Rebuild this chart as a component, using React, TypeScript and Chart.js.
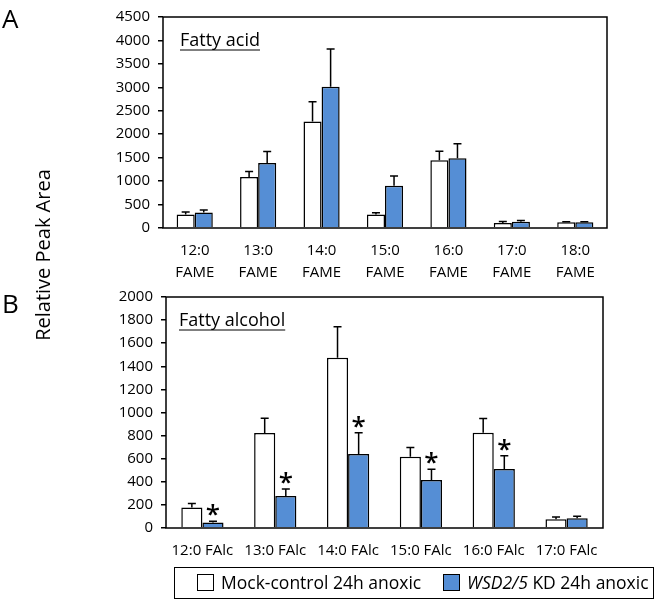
import React, { useEffect, useRef } from "react";
import { Chart, registerables } from "chart.js";

Chart.register(...registerables);

// ---------- Data ----------
const acidCategories = [
  ["12:0", "FAME"],
  ["13:0", "FAME"],
  ["14:0", "FAME"],
  ["15:0", "FAME"],
  ["16:0", "FAME"],
  ["17:0", "FAME"],
  ["18:0", "FAME"],
];
const acidMock = [290, 1090, 2270, 290, 1445, 105, 125];
const acidMockErr = [50, 115, 425, 35, 190, 35, 10];
const acidKD = [330, 1385, 3010, 900, 1485, 135, 125];
const acidKDErr = [55, 245, 805, 210, 310, 27, 10];
const acidSig = [false, false, false, false, false, false, false];

const alcoholCategories = ["12:0 FAlc", "13:0 FAlc", "14:0 FAlc", "15:0 FAlc", "16:0 FAlc", "17:0 FAlc"];
const alcoholMock = [177, 822, 1473, 617, 825, 76];
const alcoholMockErr = [36, 129, 269, 81, 123, 19];
const alcoholKD = [48, 278, 640, 415, 511, 84];
const alcoholKDErr = [11, 59, 185, 93, 115, 17];
const alcoholSig = [true, true, true, true, true, false];

const seriesNames = ["Mock-control 24h anoxic", "WSD2/5 KD 24h anoxic"];
const BLUE = "#558ED5";
const FONT = "'Open Sans', 'Noto Sans', sans-serif";

const overlayPlugin = {
  id: "overlay",
  afterDatasetsDraw(chart: any, _args: any, opts: any) {
    const ctx = chart.ctx;
    const ca = chart.chartArea;
    const yScale = chart.scales.y;
    ctx.save();
    ctx.strokeStyle = "#000";
    ctx.lineWidth = 1.5;
    (opts.errors || []).forEach((errs: number[], d: number) => {
      const meta = chart.getDatasetMeta(d);
      const vals = chart.data.datasets[d].data as number[];
      meta.data.forEach((el: any, i: number) => {
        const yTop = yScale.getPixelForValue(vals[i]);
        const yErr = yScale.getPixelForValue(vals[i] + errs[i]);
        ctx.beginPath();
        ctx.moveTo(el.x, yTop);
        ctx.lineTo(el.x, yErr);
        ctx.moveTo(el.x - 4, yErr);
        ctx.lineTo(el.x + 4, yErr);
        ctx.stroke();
        if (d === 1 && opts.sig && opts.sig[i]) {
          ctx.fillStyle = "#000";
          ctx.font = `600 26px ${FONT}`;
          ctx.textAlign = "center";
          ctx.textBaseline = "alphabetic";
          ctx.fillText("*", el.x, yErr + 2);
        }
      });
    });
    ctx.lineWidth = 1.5;
    ctx.strokeStyle = "#000";
    ctx.strokeRect(ca.left, ca.top, ca.right - ca.left, ca.bottom - ca.top);
    if (opts.title) {
      ctx.font = `18px ${FONT}`;
      ctx.fillStyle = "#000";
      ctx.textAlign = "left";
      ctx.textBaseline = "alphabetic";
      const tx = ca.left + opts.titleDx;
      const ty = ca.top + opts.titleDy;
      ctx.fillText(opts.title, tx, ty);
      const w = ctx.measureText(opts.title).width;
      ctx.lineWidth = 1.2;
      ctx.beginPath();
      ctx.moveTo(tx, ty + 4);
      ctx.lineTo(tx + w, ty + 4);
      ctx.stroke();
    }
    ctx.restore();
  },
};

function makeConfig(p: {
  labels: any[];
  mock: number[];
  kd: number[];
  mockErr: number[];
  kdErr: number[];
  sig: boolean[];
  max: number;
  step: number;
  yWidth: number;
  xHeight: number;
  padTop: number;
  padRight: number;
  title: string;
  titleDx: number;
  titleDy: number;
  xPad: number;
  catPct: number;
}) {
  return {
    type: "bar" as const,
    data: {
      labels: p.labels,
      datasets: [
        {
          label: seriesNames[0],
          data: p.mock,
          backgroundColor: "#ffffff",
          borderColor: "#000",
          borderWidth: 1.5,
          categoryPercentage: p.catPct,
          barPercentage: 1.0,
        },
        {
          label: seriesNames[1],
          data: p.kd,
          backgroundColor: BLUE,
          borderColor: "#000",
          borderWidth: 1.5,
          categoryPercentage: p.catPct,
          barPercentage: 1.0,
        },
      ],
    },
    options: {
      responsive: false,
      animation: false as const,
      devicePixelRatio: 1,
      layout: { padding: { left: 0, top: p.padTop, right: p.padRight, bottom: 0 } },
      plugins: {
        legend: { display: false },
        tooltip: { enabled: false },
        overlay: {
          errors: [p.mockErr, p.kdErr],
          sig: p.sig,
          title: p.title,
          titleDx: p.titleDx,
          titleDy: p.titleDy,
        },
      },
      scales: {
        x: {
          grid: { display: false, drawTicks: false },
          border: { display: false },
          ticks: {
            color: "#000",
            font: { family: FONT, size: 15, lineHeight: 1.45 },
            padding: p.xPad,
            maxRotation: 0,
            autoSkip: false,
          },
          afterFit(scale: any) {
            scale.height = p.xHeight;
          },
        },
        y: {
          min: 0,
          max: p.max,
          grid: { drawOnChartArea: false, drawTicks: true, tickLength: 5, color: "#000", lineWidth: 1.5 },
          border: { display: false },
          ticks: {
            stepSize: p.step,
            color: "#000",
            font: { family: FONT, size: 15 },
            padding: 8,
            callback: (v: any) => String(v),
          },
          afterFit(scale: any) {
            scale.width = p.yWidth;
          },
        },
      },
    },
    plugins: [overlayPlugin],
  };
}

export default function App() {
  const refA = useRef<HTMLCanvasElement>(null);
  const refB = useRef<HTMLCanvasElement>(null);

  useEffect(() => {
    const a = new Chart(
      refA.current as HTMLCanvasElement,
      makeConfig({
        labels: acidCategories,
        mock: acidMock,
        kd: acidKD,
        mockErr: acidMockErr,
        kdErr: acidKDErr,
        sig: acidSig,
        max: 4500,
        step: 500,
        yWidth: 163,
        xHeight: 290 - 228,
        padTop: 7,
        padRight: 666 - 607,
        title: "Fatty acid",
        titleDx: 17,
        titleDy: 29,
        xPad: 12,
        catPct: 0.57,
      }) as any
    );
    const b = new Chart(
      refB.current as HTMLCanvasElement,
      makeConfig({
        labels: alcoholCategories,
        mock: alcoholMock,
        kd: alcoholKD,
        mockErr: alcoholMockErr,
        kdErr: alcoholKDErr,
        sig: alcoholSig,
        max: 2000,
        step: 200,
        yWidth: 166,
        xHeight: 565 - 528,
        padTop: 10,
        padRight: 666 - 603,
        title: "Fatty alcohol",
        titleDx: 13,
        titleDy: 29,
        xPad: 12,
        catPct: 0.58,
      }) as any
    );
    return () => {
      a.destroy();
      b.destroy();
    };
  }, []);

  const sq = (bg: string): React.CSSProperties => ({
    position: "absolute",
    top: 6,
    width: 17,
    height: 17,
    boxSizing: "border-box",
    border: "1.5px solid #000",
    background: bg,
  });

  return (
    <div
      style={{
        position: "absolute",
        left: 0,
        top: 0,
        width: 666,
        height: 605,
        background: "#fff",
        fontFamily: FONT,
        color: "#000",
        overflow: "hidden",
      }}
    >
      <canvas ref={refA} width={666} height={290} style={{ position: "absolute", left: 0, top: 0 }} />
      <canvas ref={refB} width={666} height={285} style={{ position: "absolute", left: 0, top: 280 }} />
      <div style={{ position: "absolute", left: 2, top: 2, fontSize: 26, lineHeight: "32px" }}>A</div>
      <div style={{ position: "absolute", left: 2, top: 287, fontSize: 26, lineHeight: "32px" }}>B</div>
      <div
        style={{
          position: "absolute",
          left: 42,
          top: 255,
          transform: "translate(-50%, -50%) rotate(-90deg)",
          whiteSpace: "nowrap",
          fontSize: 20,
        }}
      >
        Relative Peak Area
      </div>
      <div
        style={{
          position: "absolute",
          left: 174,
          top: 567,
          width: 480,
          height: 32,
          boxSizing: "border-box",
          border: "1.5px solid #000",
          fontSize: 17.5,
          lineHeight: "24px",
        }}
      >
        <div style={{ ...sq("#fff"), left: 22 }} />
        <div style={{ position: "absolute", left: 46, top: 2, whiteSpace: "nowrap" }}>{seriesNames[0]}</div>
        <div style={{ ...sq(BLUE), left: 268 }} />
        <div style={{ position: "absolute", left: 292, top: 2, whiteSpace: "nowrap" }}>
          <i>WSD2/5</i> KD 24h anoxic
        </div>
      </div>
    </div>
  );
}
